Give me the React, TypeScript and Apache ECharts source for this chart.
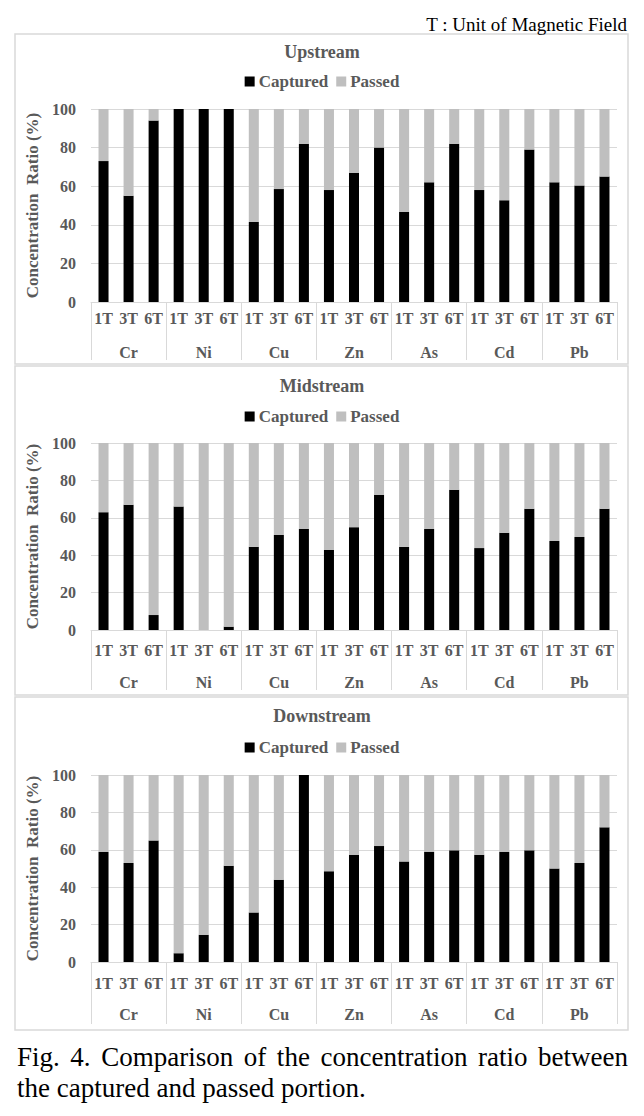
import React, { useEffect, useRef } from "react";
import * as echarts from "echarts";

const groups = ["Cr", "Ni", "Cu", "Zn", "As", "Cd", "Pb"];
const fields = ["1T", "3T", "6T"];
const panelTitles = ["Upstream", "Midstream", "Downstream"];
const legendNames = ["Captured", "Passed"];

// captured portion (%) per element × field, order follows groups × fields
const upstreamCaptured = [73, 55, 94, 100, 100, 100, 41.5, 58.5, 82, 58, 67, 80, 46.6, 62, 82, 58, 52.7, 79, 62, 60.4, 65];
const midstreamCaptured = [63, 67, 8, 66, 0, 1.8, 44.5, 50.8, 54, 42.8, 55, 72.3, 44.5, 54, 75, 43.8, 52, 64.8, 47.6, 49.7, 64.8];
const downstreamCaptured = [59, 53, 65, 4.7, 14.5, 51.5, 26.5, 44, 100, 48.5, 57.4, 62, 53.7, 59, 59.7, 57.4, 59, 59.7, 50, 53, 72];
const capturedSets = [upstreamCaptured, midstreamCaptured, downstreamCaptured];

const yMin = 0;
const yMax = 100;
const yInterval = 20;

const unitNote = "T : Unit of Magnetic Field";
const captionLine1 = "Fig. 4. Comparison of the concentration ratio between";
const captionLine2 = "the captured and passed portion.";

const FONT = "'Liberation Serif', 'Times New Roman', serif";
const LABEL = "#595959";
const GRID = "#d9d9d9";

const layout = [
  { top: 109, height: 193, box: [15, 34, 613, 330], inner: 8, outer: 42, tick: 58, titleY: 53, legendY: 82 },
  { top: 443, height: 187, box: [15, 366, 613, 329], inner: 12, outer: 44, tick: 60, titleY: 387, legendY: 417 },
  { top: 775, height: 187, box: [15, 697, 613, 333], inner: 13, outer: 44, tick: 62, titleY: 717, legendY: 748 },
];

function measure(text: string, font: string): number {
  const c = document.createElement("canvas").getContext("2d");
  if (!c) return text.length * 11;
  c.font = font;
  return c.measureText(text).width;
}

function justifiedWords(line: string, left: number, right: number, y: number, size: number) {
  const words = line.split(" ");
  const font = `${size}px "Liberation Serif"`;
  const widths = words.map((w) => measure(w, font));
  const total = widths.reduce((a, b) => a + b, 0);
  const gap = (right - left - total) / (words.length - 1);
  let x = left;
  return words.map((w, i) => {
    const el = {
      type: "text",
      x,
      y,
      style: { text: w, font: `${size}px ${FONT}`, fill: "#000", textVerticalAlign: "middle" },
    };
    x += widths[i] + gap;
    return el;
  });
}

export default function App() {
  const ref = useRef<HTMLDivElement>(null);
  useEffect(() => {
    if (!ref.current) return;
    const chart = echarts.init(ref.current, undefined, { renderer: "svg" });
    const categories = groups.flatMap(() => fields);

    const grids: any[] = [];
    const xAxes: any[] = [];
    const yAxes: any[] = [];
    const series: any[] = [];
    const titles: any[] = [];
    const legends: any[] = [];
    const graphics: any[] = [];

    layout.forEach((p, i) => {
      grids.push({ left: 91, width: 526, top: p.top, height: p.height, containLabel: false });
      xAxes.push({
        type: "category",
        gridIndex: i,
        data: categories,
        position: "bottom",
        axisLine: { show: true, lineStyle: { color: GRID, width: 1 } },
        axisTick: { show: false },
        axisLabel: { interval: 0, margin: p.inner, fontFamily: FONT, fontWeight: "bold", fontSize: 16, color: LABEL },
      });
      xAxes.push({
        type: "category",
        gridIndex: i,
        data: groups,
        position: "bottom",
        axisLine: { show: false },
        axisTick: { show: true, interval: 0, length: p.tick, lineStyle: { color: GRID, width: 1 } },
        axisLabel: { interval: 0, margin: p.outer, fontFamily: FONT, fontWeight: "bold", fontSize: 16, color: LABEL },
      });
      yAxes.push({
        type: "value",
        gridIndex: i,
        min: yMin,
        max: yMax,
        interval: yInterval,
        axisLine: { show: false },
        axisTick: { show: false },
        splitLine: { lineStyle: { color: GRID, width: 1 } },
        axisLabel: { margin: 15, fontFamily: FONT, fontWeight: "bold", fontSize: 16, color: LABEL },
        name: "Concentration  Ratio (%)",
        nameLocation: "middle",
        nameGap: 43,
        nameTextStyle: { fontFamily: FONT, fontWeight: "bold", fontSize: 17, color: LABEL },
      });
      const cap = capturedSets[i];
      series.push({
        name: legendNames[0],
        type: "bar",
        xAxisIndex: 2 * i,
        yAxisIndex: i,
        stack: "s" + i,
        barWidth: "40%",
        itemStyle: { color: "#000000" },
        data: cap,
      });
      series.push({
        name: legendNames[1],
        type: "bar",
        xAxisIndex: 2 * i,
        yAxisIndex: i,
        stack: "s" + i,
        barWidth: "40%",
        itemStyle: { color: "#bfbfbf" },
        data: cap.map((v) => yMax - v),
      });
      titles.push({
        text: panelTitles[i],
        left: "center",
        top: p.titleY - 10,
        padding: 0,
        textStyle: { fontFamily: FONT, fontWeight: "bold", fontSize: 18, color: LABEL },
      });
      legends.push({
        data: legendNames,
        left: "center",
        top: p.legendY - 9,
        padding: 0,
        itemWidth: 10,
        itemHeight: 10,
        itemGap: 8,
        icon: "rect",
        selectedMode: false,
        textStyle: { fontFamily: FONT, fontWeight: "bold", fontSize: 17, color: LABEL, padding: [0, 0, 0, -1] },
      });
      graphics.push({
        type: "rect",
        z: -1,
        shape: { x: p.box[0], y: p.box[1], width: p.box[2], height: p.box[3] },
        style: { fill: "none", stroke: GRID, lineWidth: 1.5 },
      });
    });

    graphics.push({
      type: "text",
      x: 627,
      y: 24,
      style: { text: unitNote, font: `19px ${FONT}`, fill: "#000", textAlign: "right", textVerticalAlign: "middle" },
    });
    graphics.push(...justifiedWords(captionLine1, 17, 628, 1057, 27));
    graphics.push({
      type: "text",
      x: 17,
      y: 1088,
      style: { text: captionLine2, font: `27px ${FONT}`, fill: "#000", textVerticalAlign: "middle" },
    });

    chart.setOption({
      animation: false,
      backgroundColor: "#ffffff",
      title: titles,
      legend: legends,
      grid: grids,
      xAxis: xAxes,
      yAxis: yAxes,
      series,
      graphic: graphics,
    });
    return () => chart.dispose();
  }, []);
  return <div ref={ref} style={{ position: "absolute", left: 0, top: 0, width: 644, height: 1116 }} />;
}
